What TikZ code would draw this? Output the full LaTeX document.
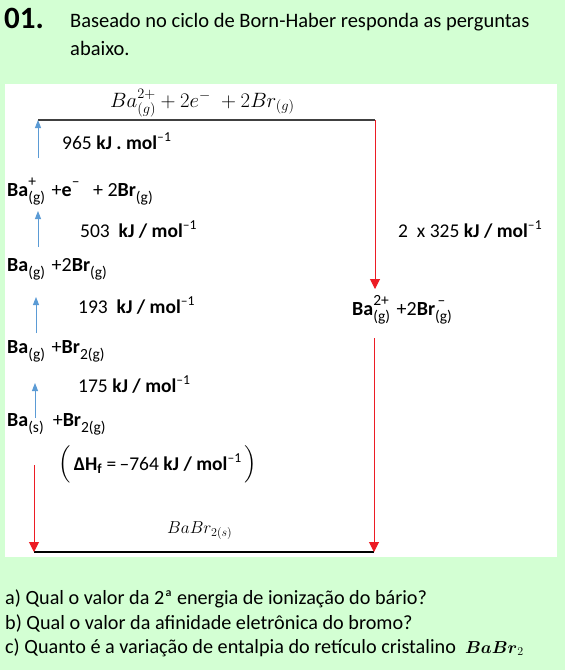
\documentclass[tikz,border=0pt]{standalone}
\usepackage{amsmath}
\usepackage{fontspec}
\setmainfont{Carlito}
\usepackage{xcolor}
\definecolor{bhGreen}{RGB}{211,255,211}
\definecolor{bhBlue}{RGB}{91,155,213}
\definecolor{bhRed}{RGB}{236,28,36}
\definecolor{bhGray}{RGB}{64,64,64}
\usetikzlibrary{arrows.meta}
% state subscripts and charges at the size the sheet uses
\newcommand{\sbs}[1]{\raisebox{-0.33em}{\fontsize{15.5}{16}\selectfont\mdseries #1}}
\newcommand{\sps}[1]{\raisebox{0.5em}{\fontsize{15.5}{16}\selectfont\mdseries #1}}
\newcommand{\ssb}[2]{\rlap{\sps{#1}}\sbs{#2}}
\newcommand{\perm}{$^{\text{--1}}$}

\begin{document}
\begin{tikzpicture}[x=1pt,y=-1pt,
  txt/.style={anchor=base west,inner sep=0pt,font=\fontsize{20.5}{24}\selectfont},
  qs/.style={anchor=base west,inner sep=0pt,font=\fontsize{20.2}{23}\selectfont},
  sp/.style={anchor=base west,inner sep=0pt,font=\fontsize{20}{22}\selectfont},
  it/.style={anchor=base west,inner sep=0pt,font=\fontsize{19.2}{22}\selectfont},
  en/.style={anchor=base west,inner sep=0pt,font=\fontsize{19.5}{22}\selectfont},
  lv/.style={bhGray,line width=1.2pt},
  up/.style={-{Triangle[length=8pt,width=6pt]},bhBlue,line width=1pt},
  dn/.style={-{Triangle[length=10pt,width=10pt]},bhRed,line width=1pt}]
  % page and white panel
  \fill[bhGreen] (0,0) rectangle (565,670);
  \fill[white] (5,84) rectangle (557,557);
  \useasboundingbox (0,0) rectangle (565,670);
  % heading
  \node[anchor=base west,inner sep=0pt,font=\fontsize{31}{34}\selectfont\bfseries] (num) at (4,28) {01.};
  \node[txt] (head1) at (70,27) {Baseado no ciclo de Born-Haber responda as perguntas};
  \node[txt] (head2) at (70,55) {abaixo.};
  % level ends
  \coordinate (tl) at (38,120);
  \coordinate (tr) at (375,120);
  \coordinate (bl) at (34,552);
  \coordinate (br) at (374,552);
  \coordinate (ea) at (375,289);
  \coordinate (eb) at (374,338);
  \coordinate (fa) at (34,465);
  \coordinate (u1) at (38,158);
  \coordinate (u2a) at (38,247);
  \coordinate (u2b) at (38,211);
  \coordinate (u3a) at (36,333);
  \coordinate (u3b) at (36,297);
  \coordinate (u4a) at (35,418);
  \coordinate (u4b) at (35,383);
  % species
  \node[it] (top) at (110,107) {$Ba^{2+}_{(g)}+2e^{-}\;+2Br_{(g)}$};
  \node[sp] (baplus) at (7,196) {\textbf{Ba}\ssb{+}{(g)}\,\,+\textbf{e}\sps{–}\ \ \ + 2\textbf{Br}\sbs{(g)}};
  \node[sp] (bag) at (7,271) {\textbf{Ba}\sbs{(g)}\,\,+2\textbf{Br}\sbs{(g)}};
  \node[sp] (babr) at (7,353) {\textbf{Ba}\sbs{(g)}\,\,+\textbf{Br}\sbs{2(g)}};
  \node[sp] (bas) at (7,426) {\textbf{Ba}\sbs{(s)}\ \ +\textbf{Br}\sbs{2(g)}};
  \node[sp] (ions) at (352,315) {\textbf{Ba}\ssb{2+}{(g)}\,\,+2\textbf{Br}\ssb{\,–}{(g)}};
  \node[it,font=\fontsize{18.5}{22}\selectfont] (salt) at (167,533) {$BaBr_{2(s)}$};
  % energies
  \node[en] (e965) at (62,149) {965 \textbf{kJ . mol}\perm};
  \node[en] (e503) at (80,237) {503 \ \textbf{kJ / mol}\perm};
  \node[en] (e193) at (78,313) {193 \ \textbf{kJ / mol}\perm};
  \node[en] (e175) at (78,392) {175 \textbf{kJ / mol}\perm};
  \node[en] (ehf) at (58,470) {$\Bigl($\,\textbf{ΔH}$_{\textbf{f}}$ =\,–764 \textbf{kJ / mol}\perm\,$\Bigr)$};
  \node[en] (e325) at (398,237) {2 \ x 325 \textbf{kJ / mol}\perm};
  % lines and arrows
  \draw[lv] (tl) -- (tr);
  \draw[lv,black] (bl) -- (br);
  \draw[dn] (tr) -- (ea);
  \draw[dn] (eb) -- (br);
  \draw[dn] (fa) -- (bl);
  \draw[up] (u1) -- (tl);
  \draw[up] (u2a) -- (u2b);
  \draw[up] (u3a) -- (u3b);
  \draw[up] (u4a) -- (u4b);
  % questions
  \node[qs] (qa) at (5,604) {a) Qual o valor da 2ª energia de ionização do bário?};
  \node[qs] (qb) at (5,629) {b) Qual o valor da afinidade eletrônica do bromo?};
  \node[qs] (qc) at (5,653) {c) Quanto é a variação de entalpia do retículo cristalino \ {\fontsize{17}{20}\selectfont$\boldsymbol{BaBr}_{2}$}};
\end{tikzpicture}
\end{document}
